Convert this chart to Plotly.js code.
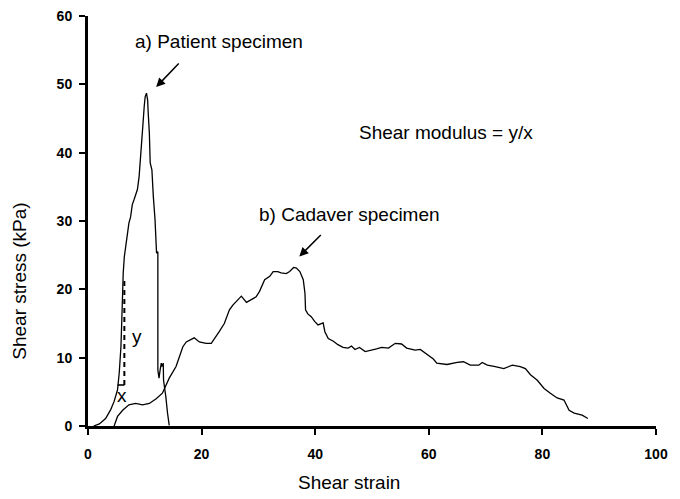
<!DOCTYPE html>
<html>
<head>
<meta charset="utf-8">
<script src="https://cdn.plot.ly/plotly-3.0.1.min.js"></script>
<style>
  html, body { margin: 0; padding: 0; background: #fff; }
  #chart { width: 680px; height: 499px; }
</style>
</head>
<body>
<div id="chart"></div>
<script>
// a) patient specimen
var patientX = [1, 2.0, 3.1, 4.0, 4.6, 5.2, 5.5, 5.8, 5.95, 6.06, 6.2, 6.4, 6.7, 6.95, 7.2, 7.5, 7.8, 8.1, 8.4, 8.7, 9.0, 9.3, 9.6, 9.9, 10.07, 10.3, 10.5, 10.6, 10.8, 10.95, 11.25, 11.5, 11.8, 12.07, 12.3, 12.3, 12.5, 12.7, 12.9, 13.0, 13.25, 13.3, 13.5, 13.7, 14.0, 14.2, 14.3];
var patientY = [0, 0.3, 1.1, 2.4, 3.6, 5.3, 7.8, 11.6, 15.5, 20.4, 22.4, 24.8, 26.7, 28.7, 29.7, 30.6, 32.4, 33.1, 33.8, 34.6, 36.5, 39.4, 43.3, 46.8, 48.2, 48.7, 47.7, 45.8, 42.9, 38.5, 37.5, 33.6, 30.2, 25.3, 25.5, 8.2, 7.0, 8.2, 9.2, 8.7, 9.2, 6.7, 5.8, 4.3, 1.9, 0.9, 0.1];

// b) cadaver specimen
var cadaverX = [4.6, 5.2, 6.1, 7.2, 8.4, 9.6, 10.8, 12.0, 13.1, 14.3, 15.5, 16.7, 17.3, 18.7, 19.6, 20.8, 21.7, 22.3, 23.1, 24.0, 24.9, 25.5, 26.4, 27.0, 27.9, 28.7, 29.6, 30.2, 31.1, 32.0, 32.6, 33.4, 34.0, 34.9, 35.5, 36.2, 36.7, 37.3, 37.9, 38.2, 38.3, 38.7, 39.3, 39.9, 40.5, 41.4, 41.7, 42.3, 43.2, 44.0, 44.9, 45.8, 46.4, 47.0, 47.8, 48.8, 49.6, 50.8, 51.7, 52.9, 54.1, 55.2, 56.1, 57.6, 58.5, 59.7, 60.8, 61.4, 63.2, 65.0, 66.1, 67.3, 68.8, 69.4, 70.3, 71.7, 73.2, 74.7, 76.1, 77.0, 77.9, 79.1, 80.3, 81.4, 82.6, 83.8, 84.7, 85.6, 87.0, 88.0];
var cadaverY = [0, 1.4, 2.3, 3.1, 3.3, 3.1, 3.3, 4.0, 4.8, 7.0, 8.7, 11.6, 12.3, 12.9, 12.3, 12.1, 12.1, 12.8, 13.8, 15.0, 17.0, 17.7, 18.4, 19.0, 18.1, 18.5, 18.9, 19.7, 21.4, 21.9, 22.6, 22.6, 22.4, 22.3, 22.6, 23.2, 23.1, 22.6, 21.4, 19.4, 17.0, 16.4, 16.0, 15.3, 14.8, 15.1, 13.8, 12.8, 12.4, 11.9, 11.5, 11.4, 11.7, 11.2, 11.5, 10.9, 11.1, 11.3, 11.5, 11.4, 12.1, 12.0, 11.4, 11.1, 11.2, 10.4, 9.8, 9.2, 9.0, 9.3, 9.4, 8.9, 8.9, 9.3, 8.9, 8.7, 8.4, 8.9, 8.7, 8.4, 7.5, 6.7, 5.5, 4.8, 4.1, 3.8, 2.3, 1.9, 1.6, 1.1];

// slope construction (x step, y rise)
var stepX = [5.2, 6.4];
var stepY = [6.0, 6.0];
var riseX = [6.4, 6.4];
var riseY = [6.0, 21.7];

var xTicks = [0, 20, 40, 60, 80, 100];
var yTicks = [0, 10, 20, 30, 40, 50, 60];

var font = "Liberation Sans, Arial, sans-serif";
var line = {color: "#000", width: 1.3};

var traces = [
	{x: patientX, y: patientY, mode: "lines", line: line, hoverinfo: "none"},
	{x: cadaverX, y: cadaverY, mode: "lines", line: line, hoverinfo: "none"},
	{x: stepX, y: stepY, mode: "lines", line: {color: "#000", width: 1.6}, hoverinfo: "none"},
	{x: riseX, y: riseY, mode: "lines", line: {color: "#000", width: 2, dash: "5px,4px"}, hoverinfo: "none"}
];

var axisCommon = {
	showgrid: false,
	zeroline: false,
	showline: true,
	linecolor: "#000",
	linewidth: 3,
	ticks: "outside",
	ticklen: 6,
	tickwidth: 2,
	tickcolor: "#000",
	tickfont: {family: font, size: 14, color: "#000", weight: "bold"},
	fixedrange: true
};

var textFont = {family: font, size: 19, color: "#000"};

var layout = {
	width: 680,
	height: 499,
	margin: {l: 88, r: 24, t: 16, b: 73},
	paper_bgcolor: "#fff",
	plot_bgcolor: "#fff",
	showlegend: false,
	font: {family: font, color: "#000"},
	xaxis: Object.assign({}, axisCommon, {
		range: [0, 100],
		tickvals: xTicks,
		ticklabelstandoff: 7
	}),
	yaxis: Object.assign({}, axisCommon, {
		range: [0, 60],
		tickvals: yTicks,
		ticklabelstandoff: 4
	}),
	annotations: [
		// axis titles sit off-centre in the original, so place them by hand
		{xref: "paper", yref: "paper", x: 0.46, y: -0.139, xanchor: "center", yanchor: "middle", text: "Shear strain", showarrow: false, font: textFont},
		{xref: "paper", yref: "paper", x: -0.12, y: 0.354, xanchor: "center", yanchor: "middle", text: "Shear stress (kPa)", textangle: -90, showarrow: false, font: textFont},
		{x: 23.1, y: 56.2, text: "a) Patient specimen", showarrow: false, font: textFont},
		{x: 12.0, y: 49.6, ax: 24, ay: -25, text: "", showarrow: true, arrowhead: 2, arrowsize: 1.2, arrowwidth: 1.5, arrowcolor: "#000"},
		{x: 63.1, y: 43.0, text: "Shear modulus = y/x", showarrow: false, font: textFont},
		{x: 46.1, y: 30.9, text: "b) Cadaver specimen", showarrow: false, font: textFont},
		{x: 37.2, y: 24.8, ax: 23, ay: -23, text: "", showarrow: true, arrowhead: 2, arrowsize: 1.2, arrowwidth: 1.5, arrowcolor: "#000"},
		{x: 8.7, y: 13.1, text: "y", showarrow: false, font: textFont},
		{x: 5.95, y: 4.4, text: "x", showarrow: false, font: textFont}
	]
};

Plotly.newPlot("chart", traces, layout, {staticPlot: true});
</script>
</body>
</html>
